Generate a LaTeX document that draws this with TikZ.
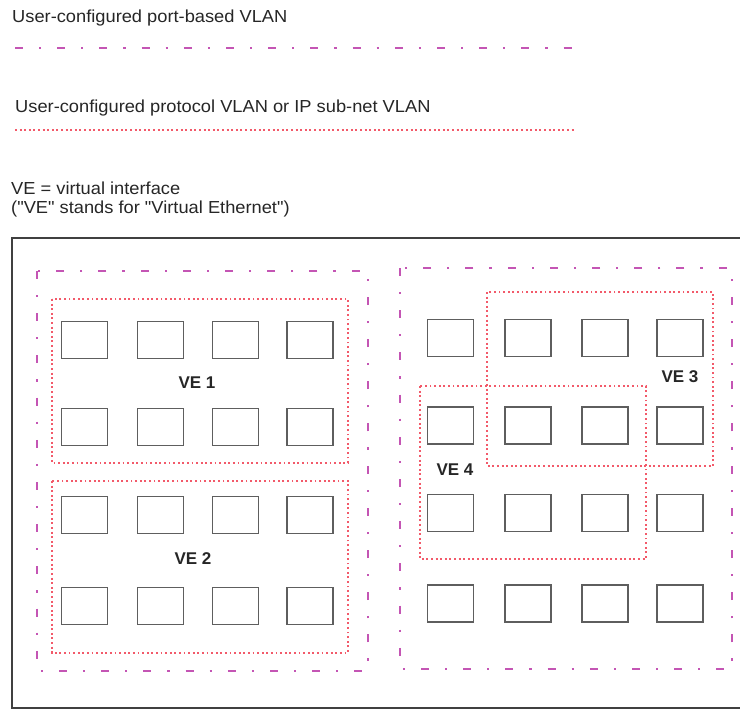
\documentclass[tikz,border=0pt]{standalone}
\usepackage{fontspec}
\setmainfont{Liberation Sans}
\newfontfamily\legendfont[FakeStretch=1.05]{Liberation Sans}
\usepackage{tikz}
\usetikzlibrary{
    positioning
}
\definecolor{vlanpink}{HTML}{C455B4}
\definecolor{vedot}{HTML}{F25A6A}
\definecolor{portgray}{HTML}{5E5E5E}
\tikzset{
    port/.style={
        draw=portgray,
        line width=1.6pt,
        minimum width=46pt,
        minimum height=37pt,
        inner sep=0pt
    },
    portvlan/.style={
        draw=vlanpink,
        line width=2.4pt,
        dash pattern=on 8pt off 16pt on 2.2pt off 16pt
    },
    vevlan/.style={
        draw=vedot,
        line width=1.9pt,
        dash pattern=on 1.9pt off 2.7pt
    },
    legend/.style={
        anchor=base west,
        inner sep=0pt,
        text=black!85,
        font=\legendfont\fontsize{17.4}{19}\selectfont
    },
    velabel/.style={
        font=\fontsize{17}{19}\selectfont\bfseries,
        text=black!85,
        inner sep=0pt
    }
}

\begin{document}
\begin{tikzpicture}[
    x=1pt,
    y=-1pt
]
    \useasboundingbox (0,0) rectangle (740,709);

    % Leyenda
    \node[legend] (txtport) at (12,23)  {User-configured port-based VLAN};
    \node[legend] (txtve)   at (15,113) {User-configured protocol VLAN or IP sub-net VLAN};
    \node[legend] (txtdef)  at (11,194) {VE = virtual interface};
    \node[legend] (txtdef2) at (11,213) {("VE" stands for "Virtual Ethernet")};

    \draw[portvlan] (15,48) -- (576,48);
    \draw[vevlan]   (15,130) -- (576,130);

    % Equipo
    \draw[line width=2pt, draw=black!75] (12,238) rectangle (760,708);

    % VLAN por puerto
    \draw[portvlan] (37,271) rectangle (368,671);
    \draw[portvlan] (400,268) rectangle (732,669);

    % VE
    \draw[vevlan] (52,299) rectangle (348,463);
    \draw[vevlan] (52,481) rectangle (348,653);
    \draw[vevlan] (487,292) rectangle (713,466);
    \draw[vevlan] (420,386) rectangle (646,559);

    \node[velabel] (ve1) at (197,383) {VE 1};
    \node[velabel] (ve2) at (193,559) {VE 2};
    \node[velabel] (ve3) at (680,377) {VE 3};
    \node[velabel] (ve4) at (455,470) {VE 4};

    % Puertos izquierda
    \node[port] (l11) at (84.5,340) {};
    \node[port] (l12) at (160.5,340) {};
    \node[port] (l13) at (235.5,340) {};
    \node[port] (l14) at (310,340) {};

    \node[port] (l21) at (84.5,427) {};
    \node[port] (l22) at (160.5,427) {};
    \node[port] (l23) at (235.5,427) {};
    \node[port] (l24) at (310,427) {};

    \node[port] (l31) at (84.5,515) {};
    \node[port] (l32) at (160.5,515) {};
    \node[port] (l33) at (235.5,515) {};
    \node[port] (l34) at (310,515) {};

    \node[port] (l41) at (84.5,606) {};
    \node[port] (l42) at (160.5,606) {};
    \node[port] (l43) at (235.5,606) {};
    \node[port] (l44) at (310,606) {};

    % Puertos derecha
    \node[port] (r11) at (450.5,338) {};
    \node[port] (r12) at (528,338) {};
    \node[port] (r13) at (605,338) {};
    \node[port] (r14) at (680,338) {};

    \node[port] (r21) at (450.5,425.5) {};
    \node[port] (r22) at (528,425.5) {};
    \node[port] (r23) at (605,425.5) {};
    \node[port] (r24) at (680,425.5) {};

    \node[port] (r31) at (450.5,513) {};
    \node[port] (r32) at (528,513) {};
    \node[port] (r33) at (605,513) {};
    \node[port] (r34) at (680,513) {};

    \node[port] (r41) at (450.5,603.5) {};
    \node[port] (r42) at (528,603.5) {};
    \node[port] (r43) at (605,603.5) {};
    \node[port] (r44) at (680,603.5) {};

\end{tikzpicture}
\end{document}
